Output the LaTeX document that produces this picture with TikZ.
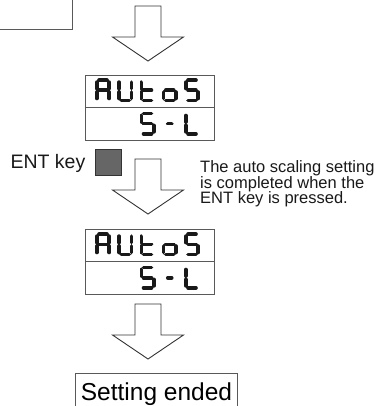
\documentclass[tikz,border=0pt]{standalone}
\usepackage{fontspec}
\setmainfont{Liberation Sans}

\tikzset{
  % seven segment glyphs, local frame 16 x 24
  lcdseg/.style={line width=3.6pt, line cap=round, black!90},
  seg a/.style={insert path={(4,1.8) -- (12,1.8)}},
  seg b/.style={insert path={(14.2,3.8) -- (14.2,10.3)}},
  seg c/.style={insert path={(14.2,13.7) -- (14.2,20.2)}},
  seg d/.style={insert path={(4,22.2) -- (12,22.2)}},
  seg e/.style={insert path={(1.8,13.7) -- (1.8,20.2)}},
  seg f/.style={insert path={(1.8,3.8) -- (1.8,10.3)}},
  seg g/.style={insert path={(4,12) -- (12,12)}},
  seg m/.style={insert path={(6,12) -- (10,12)}},
  lcd A/.style={seg a, seg b, seg c, seg e, seg f, seg g},
  lcd U/.style={seg b, seg c, seg d, seg e, seg f},
  lcd t/.style={seg d, seg e, seg f, seg g},
  lcd o/.style={seg c, seg d, seg e, seg g},
  lcd S/.style={seg a, seg c, seg d, seg f, seg g},
  lcd L/.style={seg d, seg e, seg f},
  lcd -/.style={seg m},
  outline/.style={draw=black!65, line width=0.8pt},
  panel/.style={outline, minimum width=128.5pt, minimum height=65pt, inner sep=0pt},
  bigarrow/.style={draw=black!80, line width=0.9pt},
  keybox/.style={draw=black!80, fill=black!60, minimum size=26pt, inner sep=0pt},
  note/.style={align=left, inner sep=0pt, text=black!90,
    font=\fontsize{16.5}{15.6}\selectfont},
  endbox/.style={outline, inner xsep=5pt, inner ysep=0pt, text height=27.5pt,
    text depth=12pt, font=\fontsize{24.5}{28}\selectfont},
}

\begin{document}
\begin{tikzpicture}[x=1pt, y=-1pt]

    \clip (0,0) rectangle (381,406);

    % Previous step (cut off)
    \draw[outline] (-10,-10) rectangle (72,29);

    % Flow arrows
    \foreach \ay in {6,159,304}
        \draw[bigarrow] (135,\ay) -- (135,\ay+31) -- (112.5,\ay+31) -- (148,\ay+55)
            -- (183.5,\ay+31) -- (161,\ay+31) -- (161,\ay) -- cycle;

    % Display panels
    \foreach \py in {75,229} {
        \node[panel, anchor=north west] (panel\py) at (85,\py) {};
        \draw[outline] (panel\py.west |- 0,\py+32) -- (panel\py.east |- 0,\py+32);
        % upper row
        \foreach \ch [count=\i from 0] in {A,U,t,o,S}
            \draw[lcdseg, shift={(95+22.25*\i,\py+3.3)}, lcd \ch];
        % lower row
        \foreach \i/\ch in {2/S,3/-,4/L}
            \draw[lcdseg, shift={(95+22.25*\i,\py+36.7)}, lcd \ch];
    }

    % ENT key
    \node[anchor=base east, inner sep=0pt, text=black!90,
        font=\fontsize{19.5}{22}\selectfont] (entlabel) at (85.5,168) {ENT key};
    \node[keybox] (entkey) at (108,162) {};

    % Note
    \node[note, anchor=north west] (note) at (200,160.6)
        {The auto scaling setting\\is completed when the\\ENT key is pressed.};

    % Last step
    \node[endbox, anchor=north] (ended) at (156.5,373) {Setting ended};

\end{tikzpicture}
\end{document}
